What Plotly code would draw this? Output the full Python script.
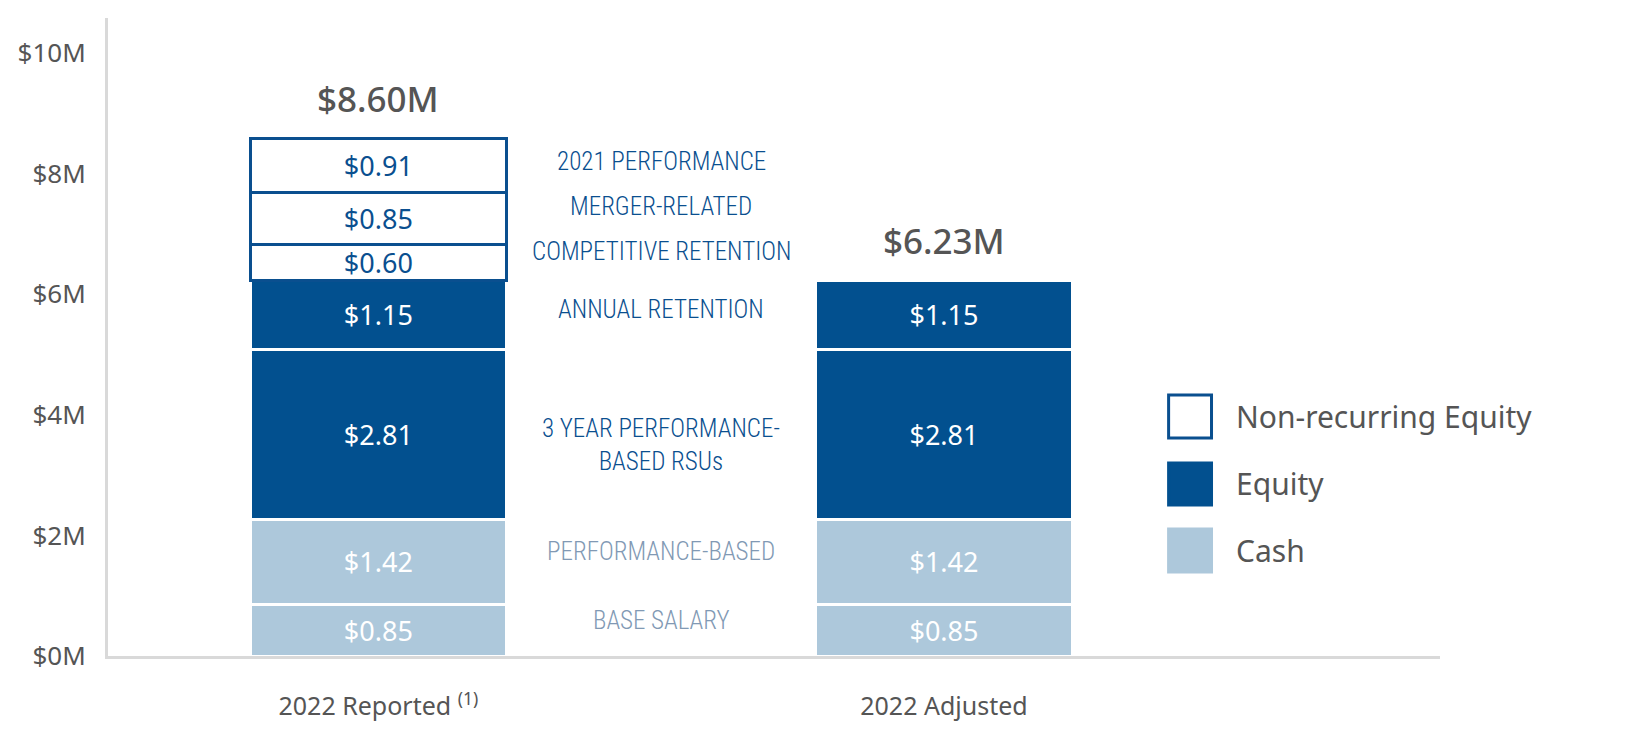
import plotly.graph_objects as go

categories = ["2022 Reported <sup>(1)</sup>", "2022 Adjusted"]
totals = ["$8.60M", "$6.23M"]
segment_names = ["BASE SALARY", "PERFORMANCE-BASED", "3 YEAR PERFORMANCE-<br>BASED RSUs",
                 "ANNUAL RETENTION", "COMPETITIVE RETENTION", "MERGER-RELATED", "2021 PERFORMANCE"]
segment_group = ["Cash", "Cash", "Equity", "Equity", "Non-recurring Equity",
                 "Non-recurring Equity", "Non-recurring Equity"]
reported = [0.85, 1.42, 2.81, 1.15, 0.60, 0.85, 0.91]
adjusted = [0.85, 1.42, 2.81, 1.15, 0, 0, 0]
y_ticks = [0, 2, 4, 6, 8, 10]
y_tick_labels = ["$0M", "$2M", "$4M", "$6M", "$8M", "$10M"]

C_EQ = "#02508f"
C_CASH = "#adc8db"
C_DARK = "#0a4f8f"
C_LABEL_CASH = "#8199b4"
C_GRAY = "#555555"
LABEL_FONT = "Roboto Condensed"
MAIN_FONT = "Noto Sans"

x_pos = [0, 1]
fig = go.Figure()
for i, name in enumerate(segment_names):
    grp = segment_group[i]
    vals = [reported[i], adjusted[i]]
    xs = [x for x, v in zip(x_pos, vals) if v > 0]
    vs = [v for v in vals if v > 0]
    if grp == "Cash":
        fill, line_c, line_w, tc = C_CASH, "white", 3, "white"
    elif grp == "Equity":
        fill, line_c, line_w, tc = C_EQ, "white", 3, "white"
    else:
        fill, line_c, line_w, tc = "white", C_DARK, 3, C_DARK
    fig.add_trace(go.Bar(
        x=xs, y=vs, width=0.453,
        marker=dict(color=fill, line=dict(color=line_c, width=line_w)),
        text=[f"${v:.2f}" for v in vs], textposition="inside",
        insidetextanchor="middle", constraintext="none",
        textfont=dict(family=MAIN_FONT, size=27, color=tc),
        showlegend=False, hoverinfo="skip"))

# middle labels
label_shift = [10, 10, -11, 5, 11, 12, 4]
base = 0
for i, name in enumerate(segment_names):
    mid = base + reported[i] / 2
    base += reported[i]
    col = C_LABEL_CASH if segment_group[i] == "Cash" else C_DARK
    fig.add_annotation(x=0.5, y=mid, text=name, showarrow=False, yshift=label_shift[i],
                       font=dict(family=LABEL_FONT, size=25, color=col, weight=300),
                       xanchor="center", yanchor="middle", align="center")

# totals
sums = [sum(reported), sum(adjusted)]
for x, s, t in zip(x_pos, sums, totals):
    fig.add_annotation(x=x, y=s, text=t, showarrow=False, yanchor="middle", yshift=40,
                       font=dict(family=MAIN_FONT, size=35, color=C_GRAY, weight=500))

# legend
leg_names = ["Non-recurring Equity", "Equity", "Cash"]
leg_fill = ["white", C_EQ, C_CASH]
leg_line = [C_DARK, C_EQ, C_CASH]
leg_y = [(387, 430), (455, 497), (521, 564)]
X0, W, PB, PH = 97, 1335, 648, 638
for n, f, l, (ya, yb) in zip(leg_names, leg_fill, leg_line, leg_y):
    fig.add_shape(type="rect", xref="paper", yref="paper",
                  x0=(1160 - X0) / W, x1=(1203 - X0) / W,
                  y0=(PB - yb) / PH, y1=(PB - ya) / PH,
                  fillcolor=f, line=dict(color=l, width=3))
    fig.add_annotation(xref="paper", yref="paper", x=(1226 - X0) / W, y=(PB - (ya + yb) / 2) / PH,
                       text=n, showarrow=False, xanchor="left", yanchor="middle",
                       font=dict(family=MAIN_FONT, size=30, color=C_GRAY))

fig.update_layout(
    barmode="stack", width=1626, height=748,
    margin=dict(l=97, r=194, t=10, b=100),
    plot_bgcolor="white", paper_bgcolor="white",
    uniformtext=dict(mode="show", minsize=27),
    xaxis=dict(range=[-0.478, 1.877], tickvals=x_pos, ticktext=categories,
               showline=True, linecolor="#d9d9d9", linewidth=3, showgrid=False,
               zeroline=False, ticks="", ticklabelstandoff=26,
               tickfont=dict(family=MAIN_FONT, size=25, color=C_GRAY)),
    yaxis=dict(range=[0, 10.58], tickvals=y_ticks, ticktext=y_tick_labels,
               showline=True, linecolor="#d9d9d9", linewidth=3, showgrid=False,
               zeroline=False, ticks="", ticklabelstandoff=14,
               tickfont=dict(family=MAIN_FONT, size=26, color=C_GRAY)),
)
fig.write_html("out.html")
